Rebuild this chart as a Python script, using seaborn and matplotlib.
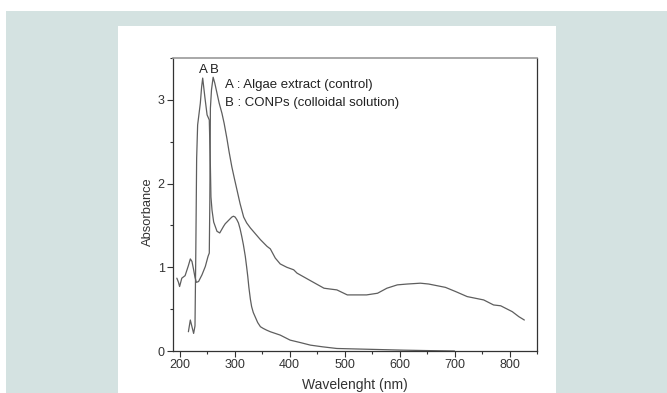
"""UV-vis absorbance spectra of algae extract and CONPs."""
import matplotlib.pyplot as plt
import matplotlib.patches as patches
import matplotlib.ticker as ticker
import pandas as pd
import seaborn as sns

# curve A: algae extract (control)
wl_a = [216, 219.5, 222.5, 225.5, 228, 229.5, 231, 232.8, 237.7, 240, 242,
        246, 250, 254, 256, 257, 259, 262, 268, 273, 280, 283, 289, 295,
        298, 301, 304, 307, 310, 313, 316, 319.5, 322, 324, 326, 328.7, 331,
        334, 338, 342, 347, 352, 358, 365, 374, 383, 401, 420, 438, 460,
        486, 547, 608, 650, 700]
abs_a = [0.23, 0.37, 0.29, 0.21, 0.30, 1.20, 2.30, 2.70, 2.96, 3.15, 3.26,
         3.03, 2.82, 2.76, 2.20, 1.84, 1.68, 1.54, 1.43, 1.41, 1.49, 1.52,
         1.56, 1.60, 1.61, 1.60, 1.57, 1.53, 1.46, 1.37, 1.27, 1.13, 1.00,
         0.89, 0.76, 0.62, 0.53, 0.46, 0.40, 0.34, 0.29, 0.27, 0.25, 0.23,
         0.21, 0.19, 0.13, 0.10, 0.07, 0.05, 0.03, 0.02, 0.01, 0.005, 0.0]

# curve B: CONPs (colloidal solution)
wl_b = [195, 198, 200, 204, 210, 213.5, 216, 219.5, 222.5, 225.5, 228,
        230.5, 234.5, 240.7, 246.8, 251.7, 254, 255, 256, 258, 261, 264,
        268, 272, 277, 281, 286, 290, 295, 300, 304.5, 310, 316.5, 322,
        328.7, 347, 359, 365, 374, 383, 395, 407.5, 413.6, 438, 462.6, 474,
        486, 505, 520, 540, 560, 577, 596, 614, 638, 653, 683.5, 702, 723,
        753, 771, 784, 805, 817, 827]
abs_b = [0.87, 0.82, 0.77, 0.87, 0.90, 0.97, 1.02, 1.10, 1.07, 0.97, 0.88,
         0.82, 0.83, 0.91, 1.01, 1.13, 1.17, 1.80, 2.90, 3.12, 3.27, 3.20,
         3.08, 2.96, 2.84, 2.72, 2.54, 2.38, 2.20, 2.05, 1.92, 1.76, 1.60,
         1.53, 1.47, 1.33, 1.25, 1.22, 1.11, 1.04, 1.00, 0.97, 0.93, 0.84,
         0.75, 0.74, 0.73, 0.67, 0.67, 0.67, 0.69, 0.75, 0.79, 0.80, 0.81,
         0.80, 0.76, 0.71, 0.65, 0.61, 0.55, 0.54, 0.47, 0.41, 0.37]

legend_lines = ["A : Algae extract (control)", "B : CONPs (colloidal solution)"]

sns.set_theme(style="ticks")
plt.rcParams['font.family'] = ['Liberation Sans', 'DejaVu Sans']

fig = plt.figure(figsize=(6.67, 3.93), dpi=100, facecolor='white')
# page background and the white panel behind the chart
fig.patches.append(patches.Rectangle(
    (6 / 667, 0), 1, (393 - 10.5) / 393, transform=fig.transFigure,
    facecolor='#d4e2e1', edgecolor='none', zorder=-2))
fig.patches.append(patches.Rectangle(
    (118 / 667, 0), 438 / 667, (393 - 26) / 393, transform=fig.transFigure,
    facecolor='white', edgecolor='none', zorder=-1))

ax = fig.add_axes([173 / 667, 1 - 351 / 393, 364 / 667, 293 / 393])
ax.set_facecolor('none')
ax.set_zorder(2)

df = pd.concat([
    pd.DataFrame({'wl': wl_a, 'abs': abs_a, 'sample': 'A'}),
    pd.DataFrame({'wl': wl_b, 'abs': abs_b, 'sample': 'B'}),
])
sns.lineplot(data=df, x='wl', y='abs', units='sample', estimator=None,
             sort=False, color='#5e5e5e', linewidth=0.9, ax=ax)

ax.set_xlim(188, 850)
ax.set_ylim(0, 3.5)
ax.xaxis.set_major_locator(ticker.MultipleLocator(100))
ax.xaxis.set_minor_locator(ticker.MultipleLocator(50))
ax.yaxis.set_major_locator(ticker.MultipleLocator(1))
ax.yaxis.set_minor_locator(ticker.MultipleLocator(0.5))
ax.tick_params(which='major', direction='out', length=4, width=0.8,
               color='#333333', labelsize=9, labelcolor='#333333', pad=2)
ax.tick_params(which='minor', direction='out', length=2.5, width=0.8,
               color='#333333')

for side in ['left', 'bottom', 'right']:
    ax.spines[side].set_color('#333333')
    ax.spines[side].set_linewidth(0.9)
ax.spines['top'].set_color('#9a9a9a')
ax.spines['top'].set_linewidth(1.2)

ax.set_xlabel('Wavelenght (nm)', fontsize=10, color='#333333', labelpad=5)
ax.set_ylabel('Absorbance', fontsize=9.3, color='#333333')
ax.yaxis.set_label_coords(-0.052, 0.474)

ax.text(242.5, 3.36, 'A', fontsize=9.5, ha='center', va='center', color='#222222')
ax.text(263.5, 3.36, 'B', fontsize=9.5, ha='center', va='center', color='#222222')
ax.text(0.143, 0.908, legend_lines[0], transform=ax.transAxes, fontsize=9.5,
        va='center', color='#222222')
ax.text(0.143, 0.846, legend_lines[1], transform=ax.transAxes, fontsize=9.5,
        va='center', color='#222222')

fig.savefig('out.png', dpi=100, facecolor=fig.get_facecolor())
